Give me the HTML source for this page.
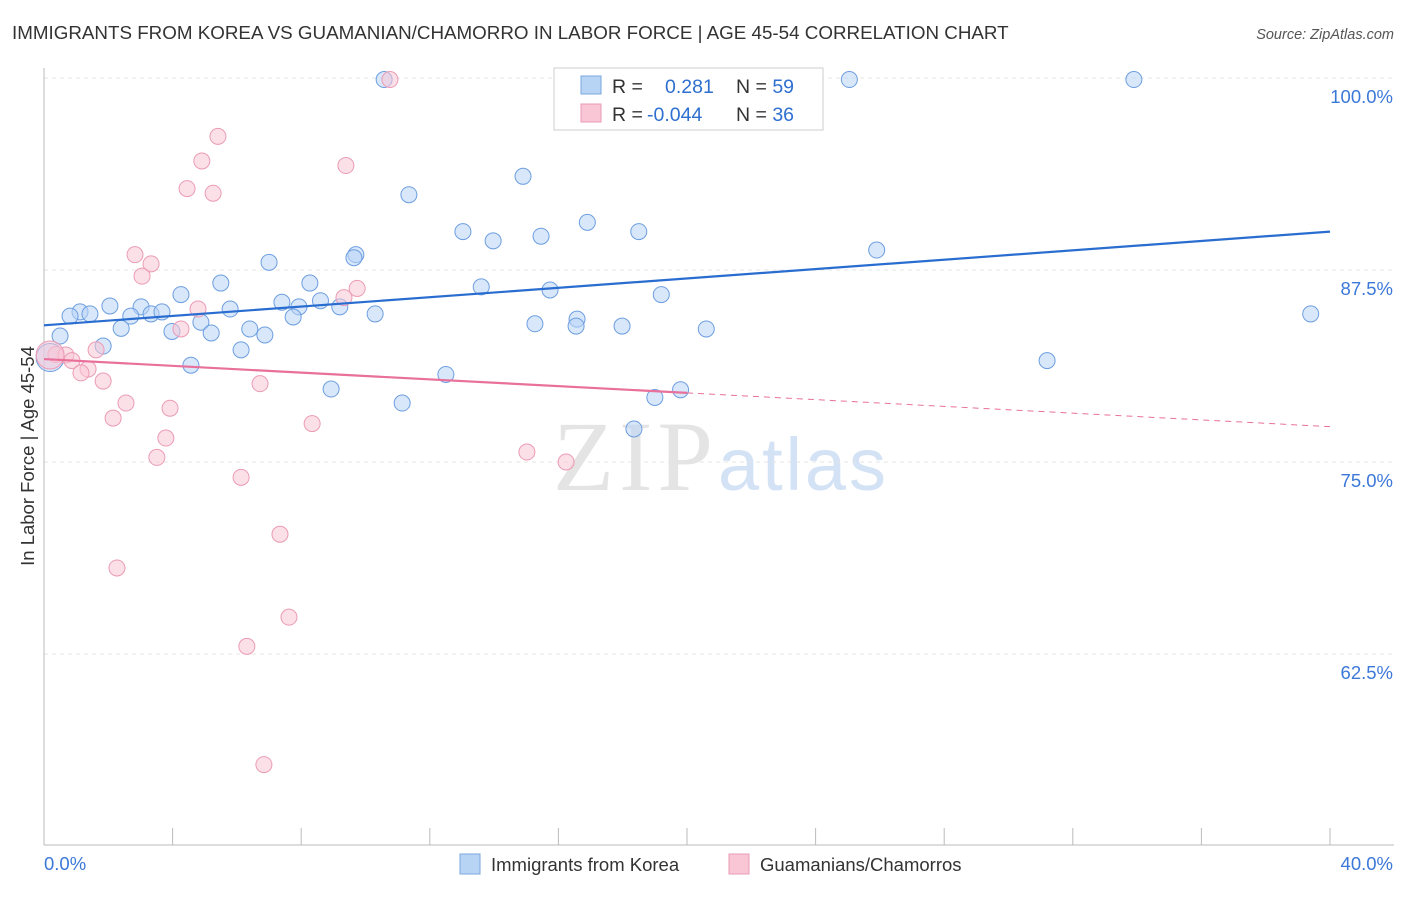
<!DOCTYPE html>
<html><head><meta charset="utf-8"><style>
body{margin:0;background:#fff;font-family:"Liberation Sans",sans-serif}
</style></head><body>
<svg width="1406" height="892" xmlns="http://www.w3.org/2000/svg" font-family="Liberation Sans, sans-serif">
<text x="12" y="39" font-size="18.8" fill="#333">IMMIGRANTS FROM KOREA VS GUAMANIAN/CHAMORRO IN LABOR FORCE | AGE 45-54 CORRELATION CHART</text>
<text x="1394" y="39" font-size="14.5" fill="#555" text-anchor="end" font-style="italic">Source: ZipAtlas.com</text>
<text x="553" y="490" font-size="100" font-family="Liberation Serif, serif" fill="#e4e4e4" textLength="160">ZIP</text>
<text x="718" y="490" font-size="74" fill="#d3e2f5" textLength="168">atlas</text>
<g id="grid"></g><g id="axes"></g><g id="marks"></g>
<text transform="translate(34,456) rotate(-90)" font-size="18.5" fill="#333" text-anchor="middle">In Labor Force | Age 45-54</text>
<g>
<rect x="554" y="68" width="269" height="62" fill="#fff" stroke="#ccc"/>
<rect x="581" y="76" width="20" height="18" fill="#b8d4f5" stroke="#7aa7e0"/>
<rect x="581" y="104" width="20" height="18" fill="#f9c6d6" stroke="#eb9bb5"/>
<text x="612" y="93" font-size="19.5" fill="#333">R = <tspan fill="#2e6fd0" x="665">0.281</tspan><tspan x="736" fill="#333">N = </tspan><tspan fill="#2e6fd0">59</tspan></text>
<text x="612" y="121" font-size="19.5" fill="#333">R = <tspan fill="#2e6fd0" x="647">-0.044</tspan><tspan x="736" fill="#333">N = </tspan><tspan fill="#2e6fd0">36</tspan></text>
</g>
<g>
<rect x="460" y="854" width="20" height="20" fill="#b8d4f5" stroke="#7aa7e0"/>
<text x="491" y="871" font-size="18.5" fill="#333">Immigrants from Korea</text>
<rect x="729" y="854" width="20" height="20" fill="#f9c6d6" stroke="#eb9bb5"/>
<text x="760" y="871" font-size="18.5" fill="#333">Guamanians/Chamorros</text>
</g>
</svg>
<script>
const blueX=[10.58,25.05,33.9,14.9,11.35,16.9,13.03,18.5,13.97,15.46,25.9,9.7,9.64,7.0,5.5,8.27,13.6,15.74,19.2,4.26,2.05,3.02,7.4,8.6,7.93,9.2,5.79,1.12,1.43,0.81,2.7,3.33,3.67,7.75,10.3,4.88,2.4,3.98,5.2,6.4,6.87,15.27,16.58,16.55,17.98,20.6,39.4,0.5,1.84,6.13,4.57,12.5,8.93,19.8,19.0,11.14,18.35,31.2,0.19];
const blueY=[99.9,99.9,99.9,93.6,92.4,90.6,90.0,90.0,89.4,89.7,88.8,88.5,88.3,88.0,86.65,86.65,86.4,86.2,85.9,85.9,85.16,85.1,85.4,85.5,85.1,85.1,84.96,84.77,84.64,84.5,84.5,84.64,84.77,84.44,84.64,84.1,83.7,83.5,83.4,83.66,83.27,84.0,84.3,83.85,83.85,83.66,84.64,83.2,82.55,82.3,81.3,80.7,79.75,79.7,79.2,78.84,77.15,81.6,81.8];
const pinkX=[10.76,5.41,4.91,9.39,4.45,5.26,2.83,3.33,3.05,4.79,9.33,9.74,4.26,1.62,0.37,0.68,0.87,1.37,1.15,1.84,6.72,2.55,3.92,2.15,8.34,3.79,3.51,15.02,16.24,6.13,7.34,2.27,7.62,6.31,6.84,0.19];
const pinkY=[99.9,96.2,94.6,94.3,92.8,92.5,88.5,87.9,87.1,84.96,85.7,86.3,83.66,82.3,82.0,81.97,81.6,81.05,80.8,80.27,80.1,78.84,78.5,77.86,77.5,76.56,75.3,75.65,75.0,74.0,70.3,68.1,64.9,63.0,55.3,81.97];
const blueTrend=[83.9,90.0];
const pinkTrend=[81.7,77.3];
const yTicks=[100,87.5,75,62.5];
const yTickLabels=["100.0%","87.5%","75.0%","62.5%"];
const NS="http://www.w3.org/2000/svg";
const X=v=>44+v/40*1286, Y=v=>78+(100-v)/12.5*192;
function mk(t,a,p){const e=document.createElementNS(NS,t);for(const k in a)e.setAttribute(k,a[k]);p.appendChild(e);return e;}
const g=document.getElementById('grid'),ax=document.getElementById('axes'),m=document.getElementById('marks');
yTicks.forEach((v,i)=>{
 const l=mk('line',{x1:44,x2:1394,y1:Y(v),y2:Y(v),stroke:'#e4e4e4','stroke-dasharray':'4,4'},g);
 
 
 const t=mk('text',{x:1393,y:Y(v)+25,'font-size':18.5,fill:'#3b78d8','text-anchor':'end'},ax);
 t.textContent=yTickLabels[i];
 
 
});
const a1=mk('line',{x1:44,x2:44,y1:68,y2:845,stroke:'#bbb'},ax);


const a2=mk('line',{x1:44,x2:1394,y1:845,y2:845,stroke:'#bbb'},ax);


for(let i=1;i<=10;i++){const t=mk('line',{x1:X(i*4),x2:X(i*4),y1:828,y2:845,stroke:'#bbb'},ax);
 
 }
const xl0=mk('text',{x:44,y:870,'font-size':18.5,fill:'#3b78d8'},ax);xl0.textContent='0.0%';


const xl1=mk('text',{x:1393,y:870,'font-size':18.5,fill:'#3b78d8','text-anchor':'end'},ax);xl1.textContent='40.0%';


function dots(xs,ys,fill,stroke,name){xs.forEach((x,i)=>{const big=i==xs.length-1;
 const c=mk('circle',{cx:X(x),cy:Y(ys[i]),r:big?14:8,fill:fill,'fill-opacity':0.55,stroke:stroke,'stroke-width':1},m);
 
 });}
dots(blueX,blueY,'#b8d4f5','#6d9ee0','korea-point');
dots(pinkX,pinkY,'#f9c6d6','#eb9bb5','chamorro-point');
const bl=mk('line',{x1:X(0),y1:Y(blueTrend[0]),x2:X(40),y2:Y(blueTrend[1]),stroke:'#2a6dd0','stroke-width':2.2},m);


const py=x=>pinkTrend[0]+(pinkTrend[1]-pinkTrend[0])*x/40;
const pl=mk('line',{x1:X(0),y1:Y(py(0)),x2:X(20),y2:Y(py(20)),stroke:'#e8709a','stroke-width':2.2},m);


const pd=mk('line',{x1:X(20),y1:Y(py(20)),x2:X(40),y2:Y(py(40)),stroke:'#e8709a','stroke-width':1,'stroke-dasharray':'6,5'},m);


</script>
</body></html>
